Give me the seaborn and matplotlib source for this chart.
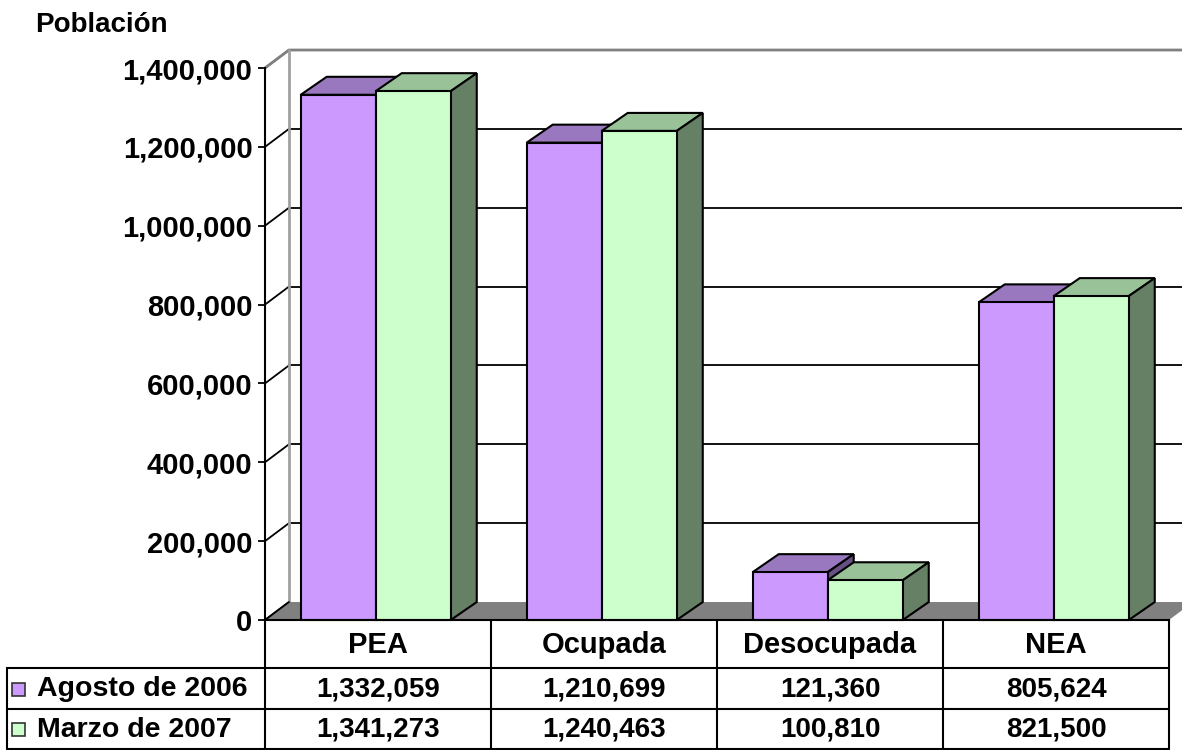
import numpy as np
import pandas as pd
import matplotlib.pyplot as plt
from matplotlib.patches import Polygon, Rectangle
import seaborn as sns

sns.set_style("white")
plt.rcParams["font.family"] = ["Liberation Sans", "DejaVu Sans"]
plt.rcParams["font.weight"] = "bold"
plt.rcParams["text.color"] = "black"
plt.rcParams["ytick.color"] = "black"
plt.rcParams["ytick.labelcolor"] = "black"

# ---------- data ----------
categories = ["PEA", "Ocupada", "Desocupada", "NEA"]
series_names = ["Agosto de 2006", "Marzo de 2007"]
agosto_2006 = [1332059, 1210699, 121360, 805624]
marzo_2007 = [1341273, 1240463, 100810, 821500]
y_ticks = [0, 200000, 400000, 600000, 800000, 1000000, 1200000, 1400000]

df = pd.DataFrame({
    "categoria": categories * 2,
    "serie": [series_names[0]] * 4 + [series_names[1]] * 4,
    "poblacion": agosto_2006 + marzo_2007,
})

front = {series_names[0]: "#CC99FF", series_names[1]: "#CCFFCC"}
top = {series_names[0]: "#9A78C0", series_names[1]: "#99C299"}
side = {series_names[0]: "#665084", series_names[1]: "#668066"}

# 3-D depth in data units (category units, people)
WALL_DX, WALL_DY = 0.106, 45600
BAR_DX, BAR_DY = 0.115, 45600
YMAX = 1400000

W, H = 1182, 750
fig = plt.figure(figsize=(W / 100, H / 100), dpi=100)
ax = fig.add_axes([265 / W, (H - 620) / H, 904 / W, 552 / H])
ax.set_facecolor("none")

sns.barplot(data=df, x="categoria", y="poblacion", hue="serie",
            order=categories, hue_order=series_names, palette=front,
            width=0.664, edgecolor="black", linewidth=1.5, saturation=1,
            legend=False, ax=ax)

# the group sits a touch left of the category centre in the original
ax.set_xlim(-0.49, 3.51)
ax.set_ylim(0, YMAX)
x_left, x_right = ax.get_xlim()

# ---------- walls, grid, floor ----------
for t in y_ticks:
    ax.plot([x_left, x_left + WALL_DX], [t, t + WALL_DY], color="black",
            lw=1.3, zorder=1, clip_on=False)
    if 0 < t < YMAX:
        ax.plot([x_left + WALL_DX, x_right + WALL_DX], [t + WALL_DY] * 2,
                color="black", lw=1.3, zorder=1, clip_on=False)
ax.plot([x_left, x_left + WALL_DX, x_right + WALL_DX],
        [YMAX, YMAX + WALL_DY, YMAX + WALL_DY], color="#808080", lw=2,
        zorder=1, clip_on=False)
ax.plot([x_left + WALL_DX] * 2, [WALL_DY, YMAX + WALL_DY], color="#A0A0A0",
        lw=2, zorder=1, clip_on=False)
ax.add_patch(Polygon([(x_left, 0), (x_right, 0), (x_right + WALL_DX, WALL_DY),
                      (x_left + WALL_DX, WALL_DY)], closed=True,
                     facecolor="#808080", edgecolor="none", zorder=1.2,
                     clip_on=False))
ax.plot([x_left, x_left + WALL_DX], [0, WALL_DY], color="black", lw=1.3,
        zorder=1.3, clip_on=False)

# ---------- 3-D tops and sides of the bars ----------
for j, (cont, name) in enumerate(zip(ax.containers, series_names)):
    base_z = 2 + j
    for bar in cont:
        x0, w, h = bar.get_x(), bar.get_width(), bar.get_height()
        x1 = x0 + w
        bar.set_zorder(base_z + 0.5)
        bar.set_clip_on(False)
        ax.add_patch(Polygon([(x0, h), (x1, h), (x1 + BAR_DX, h + BAR_DY),
                              (x0 + BAR_DX, h + BAR_DY)], closed=True,
                             facecolor=top[name], edgecolor="black", lw=1.5,
                             zorder=base_z, clip_on=False))
        ax.add_patch(Polygon([(x1, 0), (x1 + BAR_DX, BAR_DY),
                              (x1 + BAR_DX, h + BAR_DY), (x1, h)], closed=True,
                             facecolor=side[name], edgecolor="black", lw=1.5,
                             zorder=base_z, clip_on=False))

# ---------- axes styling ----------
for s in ["top", "right"]:
    ax.spines[s].set_visible(False)
for s in ["left", "bottom"]:
    ax.spines[s].set_color("black")
    ax.spines[s].set_linewidth(1.5)
    ax.spines[s].set_zorder(6)
ax.set_yticks(y_ticks)
ax.set_yticklabels([f"{v:,}" for v in y_ticks], fontsize=21,
                   fontweight="bold", color="black")
ax.tick_params(axis="y", left=True, length=5, width=1.3, pad=4,
               color="black")
ax.set_xticks([])
ax.set_xlabel("")
ax.set_ylabel("")
fig.text(35 / W, 1 - 12 / H, "Población", fontsize=20, fontweight="bold",
         ha="left", va="top", color="black")

# ---------- data table ----------
tab = fig.add_axes([0, 0, 1, 1])
tab.set_xlim(0, W)
tab.set_ylim(H, 0)
tab.axis("off")
tab.set_facecolor("none")

to_px = lambda xd: ax.transData.transform((xd, 0))[0]
col_edges = [to_px(x_left + i) for i in range(len(categories) + 1)]
col_mid = [to_px(x_left + i + 0.5) for i in range(len(categories))]
row_y = [620, 668, 709, 748.5]
left_x = 7

lkw = dict(color="black", lw=1.5, clip_on=False)
for xe in col_edges:
    tab.plot([xe, xe], [row_y[0], row_y[-1]], **lkw)
tab.plot([left_x, left_x], [row_y[1], row_y[-1]], **lkw)
for yr in row_y[1:]:
    tab.plot([left_x, col_edges[-1]], [yr, yr], **lkw)

tkw = dict(fontweight="bold", va="center", color="black")
for xm, cat in zip(col_mid, categories):
    tab.text(xm, (row_y[0] + row_y[1]) / 2 + 1, cat, ha="center",
             fontsize=21, **tkw)
for r, (name, vals) in enumerate(zip(series_names, [agosto_2006, marzo_2007])):
    yc = (row_y[r + 1] + row_y[r + 2]) / 2 + 1
    tab.add_patch(Rectangle((12, yc - 7), 13, 13, facecolor=front[name],
                            edgecolor="#333333", lw=1.2))
    tab.text(37, yc, name, ha="left", fontsize=20.5, **tkw)
    for xm, v in zip(col_mid, vals):
        tab.text(xm, yc, f"{v:,}", ha="center", fontsize=20, **tkw)

fig.savefig("out.png", dpi=100)
